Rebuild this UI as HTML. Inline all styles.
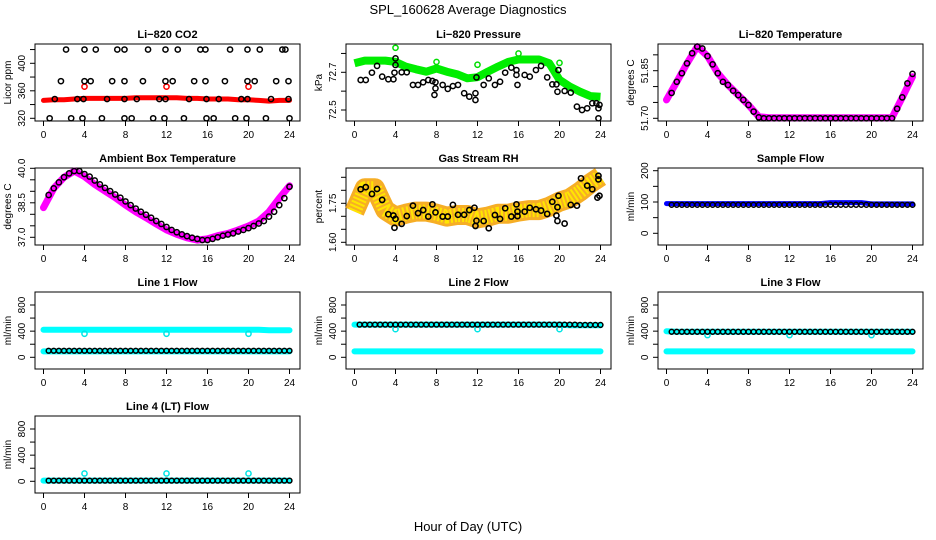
<!DOCTYPE html>
<html><head><meta charset="utf-8"><style>
body{margin:0;background:#fff;width:936px;height:540px;overflow:hidden}
svg{display:block;font-family:"Liberation Sans",sans-serif}
</style></head><body>
<svg id="chart" width="936" height="540" viewBox="0 0 936 540">
<text x="468" y="14" text-anchor="middle" font-size="13">SPL_160628  Average Diagnostics</text>
<text x="468" y="531" text-anchor="middle" font-size="13">Hour of Day (UTC)</text>
</svg>
<script>
// ---- shared data ----
const hours = [0,1,2,3,4,5,6,7,8,9,10,11,12,13,14,15,16,17,18,19,20,21,22,23,24];
const halfHours = [0.5,1,1.5,2,2.5,3,3.5,4,4.5,5,5.5,6,6.5,7,7.5,8,8.5,9,9.5,10,10.5,11,11.5,12,12.5,13,13.5,14,14.5,15,15.5,16,16.5,17,17.5,18,18.5,19,19.5,20,20.5,21,21.5,22,22.5,23,23.5,24];
const xTicks = [0,4,8,12,16,20,24];

// CO2
const co2Red = [346,347,347,348,349,349,349,349,349,350,350,350,350,350,349,349,348,348,348,347,347,346,345,346,346];
const co2RedOutT = [4,12,20];
const co2RedOutV = [366,366,366];
const co2BlackT = [2.2,4.0,5.1,7.2,7.9,10.2,11.9,13.1,15.3,15.8,18.2,19.9,21.1,23.3,23.6,
 1.7,4.0,4.6,6.7,7.9,9.7,11.9,12.6,14.7,15.8,17.7,19.9,20.6,22.7,23.9,
 1.1,3.3,3.9,6.2,7.9,9.1,11.3,11.9,14.2,15.9,17.1,19.3,19.9,22.2,23.9,
 0.6,2.7,3.8,5.7,7.9,8.6,10.7,11.8,13.7,15.9,16.6,18.7,19.8,21.7,24.0];
const co2BlackV = [420,420,420,420,420,420,420,420,420,420,420,420,420,420,420,
 374,374,374,374,374,374,374,374,374,374,374,374,374,374,374,
 348,348,348,348,348,348,348,348,348,348,348,348,348,348,348,
 320,320,320,320,320,320,320,320,320,320,320,320,320,320,320];

// Pressure
const presGreen = [72.748,72.762,72.762,72.762,72.755,72.73,72.716,72.703,72.72,72.703,72.69,72.668,72.674,72.703,72.73,72.755,72.768,72.768,72.768,72.748,72.66,72.624,72.597,72.574,72.57];
const presGreenOutT = [4,8,12,16,20];
const presGreenOutV = [72.83,72.755,72.74,72.80,72.75];
const presBlackT = [0.6,1.1,1.7,2.2,2.7,3.3,3.8,3.9,4.0,4.0,4.6,5.1,5.7,6.2,6.7,7.2,7.6,7.9,7.9,7.8,8.6,9.1,9.6,10.1,10.7,11.2,11.8,11.8,11.9,12.6,13.1,13.7,14.2,14.7,15.3,15.8,15.8,15.9,16.6,17.1,17.7,18.2,18.8,19.3,19.7,19.8,19.9,20.5,21.1,21.7,22.2,22.7,23.2,23.6,23.8,23.8,23.9];
const presBlackV = [72.659,72.659,72.698,72.734,72.677,72.663,72.663,72.698,72.739,72.774,72.70,72.70,72.633,72.633,72.647,72.659,72.654,72.647,72.615,72.58,72.633,72.612,72.627,72.633,72.589,72.571,72.589,72.553,72.673,72.633,72.668,72.633,72.65,72.698,72.725,72.712,72.686,72.633,72.686,72.677,72.712,72.734,72.673,72.636,72.636,72.597,72.712,72.601,72.592,72.518,72.50,72.509,72.536,72.536,72.509,72.456,72.527];

// Li-820 temperature
const tempMag = [51.758,51.815,51.873,51.926,51.896,51.842,51.805,51.773,51.742,51.705,51.702,51.702,51.702,51.702,51.702,51.702,51.702,51.702,51.702,51.702,51.702,51.702,51.702,51.766,51.831];
const tempBlack = [51.78,51.815,51.842,51.873,51.905,51.926,51.92,51.896,51.87,51.842,51.815,51.805,51.787,51.773,51.758,51.742,51.721,51.703,51.70,51.70,51.70,51.70,51.70,51.70,51.70,51.70,51.70,51.70,51.70,51.70,51.70,51.70,51.70,51.70,51.70,51.70,51.70,51.70,51.70,51.70,51.70,51.70,51.70,51.70,51.73,51.766,51.81,51.84];

// Ambient box temperature
const ambMag = [38.29,39.13,39.61,39.88,39.64,39.30,39.01,38.72,38.40,38.11,37.85,37.58,37.32,37.13,36.98,36.88,36.93,37.07,37.17,37.32,37.49,37.71,38.11,38.70,39.24];
const ambBlack = [38.84,39.13,39.39,39.61,39.78,39.88,39.88,39.75,39.64,39.47,39.30,39.15,39.01,38.86,38.72,38.56,38.40,38.25,38.11,37.98,37.85,37.71,37.58,37.45,37.32,37.22,37.13,37.05,36.98,36.93,36.88,36.88,36.93,37.0,37.07,37.12,37.17,37.25,37.32,37.40,37.49,37.60,37.71,37.90,38.11,38.40,38.70,39.2];

// Gas stream RH
const rhBand = [1.718,1.808,1.808,1.724,1.699,1.71,1.718,1.718,1.71,1.699,1.705,1.705,1.692,1.699,1.71,1.71,1.718,1.724,1.724,1.737,1.756,1.769,1.795,1.827,1.853];
const rhBlackT = [0.6,1.1,1.7,2.2,2.7,3.3,3.8,3.9,4.0,4.6,5.1,5.7,6.2,6.7,7.2,7.6,7.9,8.6,9.1,9.6,10.1,10.7,11.2,11.7,11.8,11.9,12.6,13.1,13.7,14.2,14.7,15.3,15.8,15.9,15.9,16.6,17.1,17.7,18.2,18.8,19.3,19.7,19.8,19.8,19.9,20.5,21.1,21.7,22.1,22.7,23.2,23.8,23.8,23.9,23.7];
const rhBlackV = [1.804,1.812,1.786,1.805,1.763,1.708,1.703,1.656,1.69,1.671,1.701,1.741,1.712,1.724,1.699,1.746,1.715,1.699,1.699,1.744,1.706,1.706,1.724,1.733,1.663,1.683,1.682,1.654,1.705,1.69,1.731,1.699,1.746,1.718,1.701,1.718,1.733,1.727,1.722,1.709,1.756,1.703,1.735,1.682,1.779,1.672,1.744,1.741,1.846,1.818,1.804,1.856,1.842,1.779,1.772];

// Sample flow
const sampleBlue = [95,95,95,95,95,95,95,95,95,95,95,95,95,95,95,95,98,98,98,98,94,94,94,94,94];
const sampleBlack = [91,91,91,91,91,91,91,91,91,91,91,91,91,91,91,91,91,91,91,91,91,91,91,91,91,91,91,91,91,91,91,91,91,91,91,91,91,91,91,91,91,91,91,91,91,91,91,91];

// Line flows
const l1CyanHigh = [420,420,420,420,420,420,420,420,420,420,420,420,420,420,420,420,420,420,420,420,420,420,415,415,415];
const l1CyanLow = [90,90,90,90,90,90,90,90,90,90,90,90,90,90,90,90,90,90,90,90,90,90,90,90,90];
const l1CyanOutT = [4,12,20];
const l1CyanOutV = [360,360,360];
const l1Black = [100,100,100,100,100,100,100,100,100,100,100,100,100,100,100,100,100,100,100,100,100,100,100,100,100,100,100,100,100,100,100,100,100,100,100,100,100,100,100,100,100,100,100,100,100,100,100,100];

const l2CyanHigh = [500,500,500,500,500,500,500,500,500,500,500,500,500,500,500,500,500,500,500,500,500,490,490,490,490];
const l2CyanLow = [90,90,90,90,90,90,90,90,90,90,90,90,90,90,90,90,90,90,90,90,90,90,90,90,90];
const l2CyanOutT = [4,12,20];
const l2CyanOutV = [430,430,430];
const l2Black = [500,500,500,500,500,500,500,500,500,500,500,500,500,500,500,500,500,500,500,500,500,500,500,500,500,500,500,500,500,500,500,500,500,500,500,500,500,500,500,500,500,500,500,495,495,495,495,495];

const l3CyanHigh = [400,390,390,390,390,390,390,390,390,390,390,390,390,390,390,390,390,390,390,390,390,390,390,390,390];
const l3CyanLow = [90,90,90,90,90,90,90,90,90,90,90,90,90,90,90,90,90,90,90,90,90,90,90,90,90];
const l3CyanOutT = [4,12,20];
const l3CyanOutV = [340,340,340];
const l3Black = [390,390,390,390,390,390,390,390,390,390,390,390,390,390,390,390,390,390,390,390,390,390,390,390,390,390,390,390,390,390,390,390,390,390,390,390,390,390,390,390,390,390,390,390,390,390,390,390];

const l4CyanHigh = [10,10,10,10,10,10,10,10,10,10,10,10,10,10,10,10,10,10,10,10,10,10,10,10,10];
const l4CyanOutT = [4,12,20];
const l4CyanOutV = [120,120,120];
const l4Black = [10,10,10,10,10,10,10,10,10,10,10,10,10,10,10,10,10,10,10,10,10,10,10,10,10,10,10,10,10,10,10,10,10,10,10,10,10,10,10,10,10,10,10,10,10,10,10,10];

const NS = 'http://www.w3.org/2000/svg';
const svg = document.getElementById('chart');
function mk(tag, attrs, parent){const e=document.createElementNS(NS,tag);for(const k in attrs)e.setAttribute(k,attrs[k]);(parent||svg).appendChild(e);return e;}

function makePanel(o){
  const L=o.left, T=o.top, W=265, H=77;
  const g = mk('g',{});
  
  
  const xs = h => L+8.5+h*10.25;
  const ys = v => T+o.p0+(v-o.v0)*(o.p1-o.p0)/(o.v1-o.v0);
  const box = mk('rect',{x:L,y:T,width:W,height:H,fill:'none',stroke:'#000','stroke-width':1},g);
  
  
  const title = mk('text',{x:L+W/2,y:T-6,'text-anchor':'middle','font-size':11,'font-weight':'bold'},g);
  title.textContent = o.title;
  
  
  xTicks.forEach(t=>{
    mk('line',{x1:xs(t),x2:xs(t),y1:T+H,y2:T+H+5,stroke:'#000'},g);
    const tx = mk('text',{x:xs(t),y:T+H+17,'text-anchor':'middle','font-size':10},g);
    tx.textContent = t;
    
    
  });
  o.yt.forEach(v=>{ const y=ys(v); mk('line',{x1:L,x2:L-5,y1:y,y2:y,stroke:'#000'},g); });
  o.yl.forEach(v=>{
    const y=ys(v);
    const tx = mk('text',{x:L-10,y:y,'text-anchor':'middle','font-size':10,transform:`rotate(-90 ${L-10} ${y})`},g);
    tx.textContent = o.fmt ? v.toFixed(o.fmt) : v;
    
    
  });
  const yc=T+H/2;
  const yt = mk('text',{x:L-24,y:yc,'text-anchor':'middle','font-size':10,transform:`rotate(-90 ${L-24} ${yc})`},g);
  yt.textContent = o.ylab;
  
  
  const clipG = mk('g',{},g);
  return {g:clipG, xs, ys};
}
function band(p, ts, vs, color, w, name, cap){
  const pts = ts.map((t,i)=>p.xs(t).toFixed(1)+','+p.ys(vs[i]).toFixed(1)).join(' ');
  const pl = mk('polyline',{points:pts,fill:'none',stroke:color,'stroke-width':w,'stroke-linejoin':'round','stroke-linecap':cap||'round'},p.g);
  
  
  return pl;
}
function pts(p, ts, vs, color, r, sw, name){
  ts.forEach((t,i)=>{
    const c = mk('circle',{cx:p.xs(t),cy:p.ys(vs[i]),r:r,fill:'none',stroke:color,'stroke-width':sw},p.g);
    
    
  });
}
const cols=[35,346,658], rows=[44,168,292,416];

// Panel 1 CO2
let p = makePanel({name:'co2-panel',title:'Li\u2212820 CO2',left:cols[0],top:rows[0],v0:320,p0:74.3,v1:400,p1:19.3,yt:[320,340,360,380,400,420],yl:[320,360,400],ylab:'Licor ppm'});
band(p,hours,co2Red,'#ff0000',5,'co2-red-series');
pts(p,co2RedOutT,co2RedOutV,'#ff0000',2.6,1.5,'co2-red-point');
pts(p,co2BlackT,co2BlackV,'#000',2.6,1.5,'co2-black-point');

// Panel 2 Pressure
p = makePanel({name:'pressure-panel',title:'Li\u2212820 Pressure',left:cols[1],top:rows[0],v0:72.5,p0:66,v1:72.7,p1:28.3,yt:[72.5,72.6,72.7,72.8],yl:[72.5,72.7],fmt:1,ylab:'kPa'});
band(p,hours,presGreen,'#00ee00',8,'pressure-green-series','butt');
pts(p,presGreenOutT,presGreenOutV,'#00dd00',2.6,1.5,'pressure-green-point');
pts(p,presBlackT,presBlackV,'#000',2.6,1.5,'pressure-black-point');

// Panel 3 Temperature
p = makePanel({name:'li820-temperature-panel',title:'Li\u2212820 Temperature',left:cols[2],top:rows[0],v0:51.70,p0:74.3,v1:51.85,p1:26.7,yt:[51.70,51.75,51.80,51.85,51.90],yl:[51.70,51.85],fmt:2,ylab:'degrees C'});
band(p,hours,tempMag,'#ff00ff',7,'temperature-magenta-series');
pts(p,halfHours,tempBlack,'#000',2.6,1.5,'temperature-black-point');

// Panel 4 Ambient
p = makePanel({name:'ambient-temperature-panel',title:'Ambient Box Temperature',left:cols[0],top:rows[1],v0:37,p0:69.3,v1:40,p1:0.3,yt:[37,37.5,38,38.5,39,39.5,40],yl:[37,38.5,40],fmt:1,ylab:'degrees C'});
band(p,hours,ambMag,'#ff00ff',7,'ambient-magenta-series');
pts(p,halfHours,ambBlack,'#000',2.6,1.5,'ambient-black-point');

// Panel 5 RH
p = makePanel({name:'gas-rh-panel',title:'Gas Stream RH',left:cols[1],top:rows[1],v0:1.60,p0:74.3,v1:1.75,p1:35.3,yt:[1.60,1.65,1.70,1.75,1.80,1.85],yl:[1.60,1.75],fmt:2,ylab:'percent'});
const ob = band(p,hours,rhBand,'#f5a000',20,'rh-orange-series','butt');
ob.setAttribute('opacity','0.85');
const yb = band(p,hours,rhBand,'#ffe600',14,'rh-yellow-series','butt');
yb.setAttribute('stroke-dasharray','2 2');
pts(p,rhBlackT,rhBlackV,'#000',2.6,1.6,'rh-black-point');

// Panel 6 Sample flow
p = makePanel({name:'sample-flow-panel',title:'Sample Flow',left:cols[2],top:rows[1],v0:0,p0:65.3,v1:200,p1:2.7,yt:[0,50,100,150,200],yl:[0,100,200],ylab:'ml/min'});
band(p,hours,sampleBlue,'#0000ff',5,'sample-blue-series');
pts(p,halfHours,sampleBlack,'#000',2.4,1.5,'sample-black-point');

const flowTicks=[0,200,400,600,800], flowLabels=[0,400,800];
// Line 1
p = makePanel({name:'line1-flow-panel',title:'Line 1 Flow',left:cols[0],top:rows[2],v0:0,p0:65.3,v1:800,p1:13,yt:flowTicks,yl:flowLabels,ylab:'ml/min'});
band(p,hours,l1CyanHigh,'#00ffff',6,'line1-cyan-high');
band(p,hours,l1CyanLow,'#00ffff',6,'line1-cyan-low');
pts(p,l1CyanOutT,l1CyanOutV,'#00e5e5',2.6,1.5,'line1-cyan-point');
pts(p,halfHours,l1Black,'#000',2.4,1.5,'line1-black-point');
// Line 2
p = makePanel({name:'line2-flow-panel',title:'Line 2 Flow',left:cols[1],top:rows[2],v0:0,p0:65.3,v1:800,p1:13,yt:flowTicks,yl:flowLabels,ylab:'ml/min'});
band(p,hours,l2CyanHigh,'#00ffff',6,'line2-cyan-high');
band(p,hours,l2CyanLow,'#00ffff',6,'line2-cyan-low');
pts(p,l2CyanOutT,l2CyanOutV,'#00e5e5',2.6,1.5,'line2-cyan-point');
pts(p,halfHours,l2Black,'#000',2.4,1.5,'line2-black-point');
// Line 3
p = makePanel({name:'line3-flow-panel',title:'Line 3 Flow',left:cols[2],top:rows[2],v0:0,p0:65.3,v1:800,p1:13,yt:flowTicks,yl:flowLabels,ylab:'ml/min'});
band(p,hours,l3CyanHigh,'#00ffff',6,'line3-cyan-high');
band(p,hours,l3CyanLow,'#00ffff',6,'line3-cyan-low');
pts(p,l3CyanOutT,l3CyanOutV,'#00e5e5',2.6,1.5,'line3-cyan-point');
pts(p,halfHours,l3Black,'#000',2.4,1.5,'line3-black-point');
// Line 4
p = makePanel({name:'line4-flow-panel',title:'Line 4 (LT) Flow',left:cols[0],top:rows[3],v0:0,p0:65.3,v1:800,p1:13,yt:flowTicks,yl:flowLabels,ylab:'ml/min'});
band(p,hours,l4CyanHigh,'#00ffff',6,'line4-cyan-series');
pts(p,l4CyanOutT,l4CyanOutV,'#00e5e5',2.6,1.5,'line4-cyan-point');
pts(p,halfHours,l4Black,'#000',2.4,1.5,'line4-black-point');
</script>
</body></html>
